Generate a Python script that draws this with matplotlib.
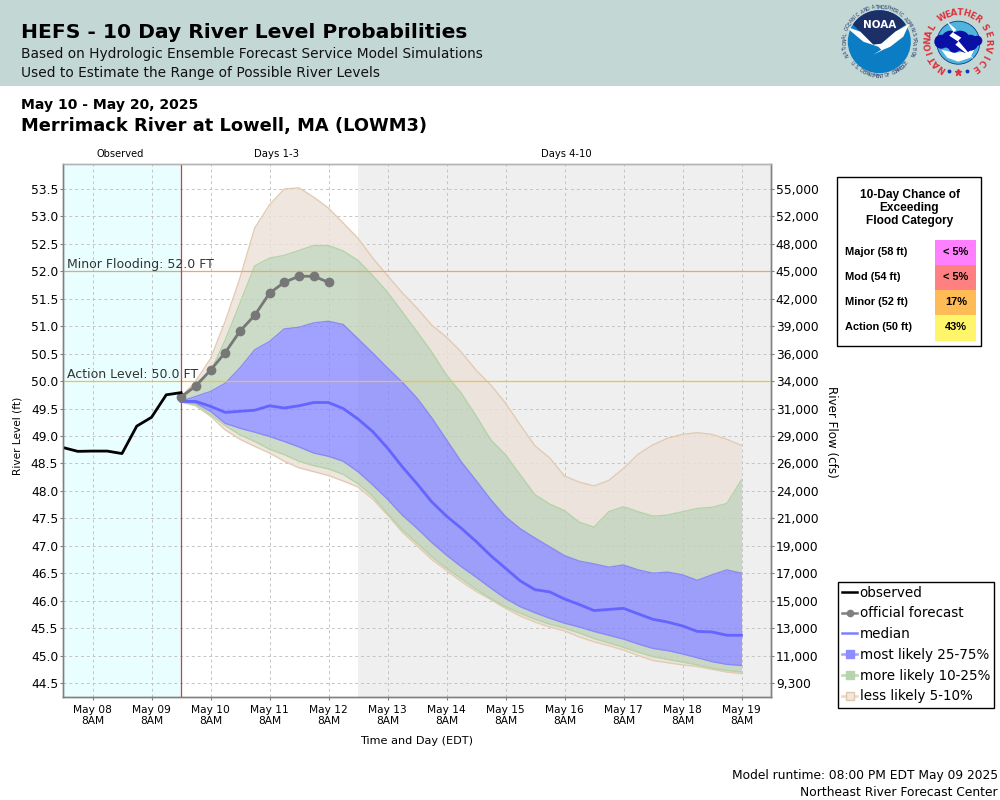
#!/usr/bin/env python3
# HEFS river level probabilities, Merrimack River at Lowell
import numpy as np
import pandas as pd
import matplotlib
matplotlib.use("Agg")
import matplotlib.pyplot as plt
from matplotlib.lines import Line2D
from matplotlib.patches import Circle, Polygon, Rectangle

# data, stage in ft
observed = [48.79, 48.72, 48.725, 48.725, 48.68, 49.18, 49.34, 49.75, 49.79]
official = [49.71, 49.91, 50.20, 50.52, 50.91, 51.20, 51.60, 51.80, 51.91, 51.91, 51.80]

median = [49.63, 49.63, 49.54, 49.43, 49.45, 49.47, 49.55, 49.51, 49.55, 49.61,
          49.61, 49.50, 49.31, 49.08, 48.78, 48.44, 48.13, 47.80, 47.54, 47.32,
          47.08, 46.82, 46.59, 46.36, 46.20, 46.16, 46.03, 45.93, 45.82, 45.84,
          45.86, 45.76, 45.66, 45.61, 45.54, 45.44, 45.43, 45.37, 45.37]
p75 = [49.63, 49.72, 49.81, 49.96, 50.24, 50.57, 50.72, 50.95, 50.98, 51.06,
       51.09, 51.03, 50.77, 50.51, 50.24, 49.98, 49.69, 49.33, 48.93, 48.53,
       48.19, 47.84, 47.53, 47.31, 47.14, 46.98, 46.82, 46.72, 46.67, 46.61,
       46.65, 46.56, 46.50, 46.52, 46.47, 46.37, 46.47, 46.56, 46.50]
p25 = [49.62, 49.60, 49.45, 49.23, 49.14, 49.07, 48.99, 48.90, 48.80, 48.69,
       48.63, 48.54, 48.35, 48.11, 47.85, 47.56, 47.32, 47.06, 46.83, 46.62,
       46.43, 46.23, 46.04, 45.89, 45.78, 45.68, 45.59, 45.52, 45.44, 45.37,
       45.30, 45.21, 45.13, 45.09, 45.03, 44.96, 44.89, 44.84, 44.82]
p90 = [49.71, 49.96, 50.17, 50.75, 51.42, 52.10, 52.24, 52.29, 52.38, 52.47,
       52.47, 52.37, 52.20, 51.92, 51.62, 51.26, 50.90, 50.53, 50.11, 49.78,
       49.37, 48.93, 48.66, 48.29, 47.93, 47.76, 47.64, 47.43, 47.34, 47.62,
       47.71, 47.62, 47.54, 47.56, 47.62, 47.68, 47.70, 47.77, 48.20]
p10 = [49.62, 49.57, 49.39, 49.19, 49.02, 48.90, 48.76, 48.66, 48.54, 48.46,
       48.40, 48.30, 48.13, 47.90, 47.59, 47.29, 47.05, 46.80, 46.59, 46.40,
       46.21, 46.04, 45.89, 45.77, 45.66, 45.57, 45.50, 45.41, 45.31, 45.23,
       45.15, 45.06, 44.98, 44.93, 44.88, 44.83, 44.77, 44.73, 44.70]
p95 = [49.71, 50.00, 50.41, 51.09, 51.88, 52.79, 53.21, 53.50, 53.52, 53.35,
       53.15, 52.88, 52.60, 52.24, 51.92, 51.61, 51.33, 51.02, 50.80, 50.53,
       50.20, 49.93, 49.60, 49.20, 48.82, 48.60, 48.27, 48.16, 48.09, 48.19,
       48.41, 48.67, 48.84, 48.96, 49.03, 49.06, 49.03, 48.94, 48.83]
p05 = [49.62, 49.55, 49.36, 49.11, 48.94, 48.81, 48.69, 48.54, 48.42, 48.35,
       48.28, 48.18, 48.07, 47.85, 47.56, 47.25, 47.00, 46.75, 46.55, 46.35,
       46.17, 46.02, 45.86, 45.72, 45.61, 45.52, 45.45, 45.34, 45.25, 45.18,
       45.10, 45.00, 44.91, 44.87, 44.83, 44.80, 44.75, 44.70, 44.67]

stage_ticks = [44.5, 45.0, 45.5, 46.0, 46.5, 47.0, 47.5, 48.0, 48.5, 49.0,
               49.5, 50.0, 50.5, 51.0, 51.5, 52.0, 52.5, 53.0, 53.5]
flow_labels = ["9,300", "11,000", "13,000", "15,000", "17,000", "19,000", "21,000",
               "24,000", "26,000", "29,000", "31,000", "34,000", "36,000", "39,000",
               "42,000", "45,000", "48,000", "52,000", "55,000"]

table_labels = ["Major (58 ft)", "Mod (54 ft)", "Minor (52 ft)", "Action (50 ft)"]
table_values = ["< 5%", "< 5%", "17%", "43%"]
table_colors = ["#FF80FF", "#FF8080", "#FFBB55", "#FFF56A"]

# time axes
t_obs = pd.date_range("2025-05-07 20:00", periods=len(observed), freq="6h")
t_fc = pd.date_range("2025-05-09 20:00", periods=len(median), freq="6h")
t_off = t_fc[:len(official)]
t_ticks = pd.date_range("2025-05-08 08:00", "2025-05-19 08:00", freq="D")

t_left = pd.Timestamp("2025-05-07 20:00")
t_now = pd.Timestamp("2025-05-09 20:00")
t_day3 = pd.Timestamp("2025-05-12 20:00")
t_right = pd.Timestamp("2025-05-19 20:00")

TAN = "#ECE2D8"
GREEN = "#C0D2BA"
BLUE = "#8282FF"
SANS = "DejaVu Sans"

fig = plt.figure(figsize=(10, 8), dpi=100)
ax = fig.add_axes([0.063, 1 - 697 / 800, 0.708, 533 / 800])

ax.set_xlim(t_left, t_right)
ax.set_ylim(44.245, 53.955)
ax.axvspan(t_left, t_now, color="#E9FFFF", lw=0, zorder=0)
ax.axvspan(t_day3, t_right, color="#EFEFEF", lw=0, zorder=0)

ax.set_axisbelow(True)
ax.grid(True, color="#C4C4C4", ls=(0, (3, 3)), lw=0.7, zorder=1)

# bands
def band(lo, hi, color, alpha):
    ax.fill_between(t_fc, lo, hi, color=color, alpha=alpha, lw=0, zorder=2)

band(p05, p10, TAN, 0.8)
band(p90, p95, TAN, 0.8)
band(p10, p25, GREEN, 0.8)
band(p75, p90, GREEN, 0.8)
band(p25, p75, BLUE, 0.75)
for s in [p05, p95]:
    ax.plot(t_fc, s, color="#E2CBB2", lw=1.0, zorder=3)
for s in [p10, p90]:
    ax.plot(t_fc, s, color="#B5D3A8", lw=1.0, zorder=3)
for s in [p25, p75]:
    ax.plot(t_fc, s, color="#8A8AF5", lw=1.0, zorder=3)

ax.axhline(52.0, color="#F2A65A", lw=0.9, zorder=4)
ax.axhline(50.0, color="#F2C23C", lw=0.9, zorder=4)
ax.axvline(t_now, color="#D63A3A", lw=0.9, zorder=4)

ax.plot(t_fc, median, color="#6464FF", lw=2.0, zorder=5)
ax.plot(t_off, official, color="#777777", lw=2.0, marker="o", ms=6, zorder=6)
ax.plot(t_obs, observed, color="black", lw=2.0, zorder=7)

ax.text(0.006, 52.01, "Minor Flooding: 52.0 FT", transform=ax.get_yaxis_transform(),
        fontsize=9, color="#333333", va="bottom", zorder=8)
ax.text(0.006, 50.01, "Action Level: 50.0 FT", transform=ax.get_yaxis_transform(),
        fontsize=9, color="#333333", va="bottom", zorder=8)

# axes
ax.set_yticks(stage_ticks)
ax.set_yticklabels(["%.1f" % v for v in stage_ticks], fontsize=8.8)
ax.set_xticks(t_ticks)
ax.set_xticklabels([d.strftime("%b %d") + "\n8AM" for d in t_ticks], fontsize=7.7, linespacing=1.1)
ax.tick_params(axis="both", color="#808080", length=2, width=0.8)
ax.tick_params(axis="y", pad=1.5)
ax.tick_params(axis="x", pad=4)
ax.set_ylabel("River Level (ft)", fontsize=7.6)
ax.yaxis.set_label_coords(-0.057, 0.489)
ax.set_xlabel("Time and Day (EDT)", fontsize=8.1, labelpad=7)

ax2 = ax.twinx()
ax2.set_ylim(ax.get_ylim())
ax2.set_yticks(stage_ticks)
ax2.set_yticklabels(flow_labels, fontsize=8.8)
ax2.tick_params(axis="y", color="#808080", length=2, width=0.8, pad=1.5)
ax2.set_ylabel("River Flow (cfs)", fontsize=8.6, rotation=270, labelpad=10)
ax2.yaxis.set_label_coords(1.095, 0.498)

for a in [ax, ax2]:
    for side in ["left", "bottom", "right"]:
        a.spines[side].set_color("#808080")
        a.spines[side].set_linewidth(1.0)
    a.spines["top"].set_color("#B4B4B4")
    a.spines["top"].set_linewidth(1.0)

# overlay in pixel coordinates for header, table and logos
ov = fig.add_axes([0, 0, 1, 1], facecolor="none", zorder=10)
ov.set_xlim(0, 1000)
ov.set_ylim(800, 0)
ov.axis("off")

ov.add_patch(Rectangle((0, 0), 1000, 86, color="#C3D7D5", lw=0))
ov.text(21, 33, "HEFS - 10 Day River Level Probabilities", fontsize=14.6, fontweight="bold", va="center")
ov.text(21, 54, "Based on Hydrologic Ensemble Forecast Service Model Simulations", fontsize=9.95, va="center", color="#111111")
ov.text(21, 73, "Used to Estimate the Range of Possible River Levels", fontsize=9.95, va="center", color="#111111")
ov.text(21, 105, "May 10 - May 20, 2025", fontsize=10.1, fontweight="bold", va="center")
ov.text(21, 126, "Merrimack River at Lowell, MA (LOWM3)", fontsize=12.85, fontweight="bold", va="center")

ov.text(120, 154, "Observed", fontsize=7.1, ha="center", va="center")
ov.text(276.5, 154, "Days 1-3", fontsize=7.3, ha="center", va="center")
ov.text(566.5, 154, "Days 4-10", fontsize=7.2, ha="center", va="center")

ov.text(998, 776, "Model runtime: 08:00 PM EDT May 09 2025", fontsize=8.8, ha="right", va="center")
ov.text(998, 792, "Northeast River Forecast Center", fontsize=8.8, ha="right", va="center")

# flood category table
ov.add_patch(Rectangle((836.5, 176.5), 144, 169, fc="white", ec="black", lw=1.0))
for i, line in enumerate(["10-Day Chance of", "Exceeding", "Flood Category"]):
    ov.text(909.5, 195 + 13 * i, line, family="Liberation Sans", fontweight="bold", fontsize=8.6, ha="center", va="center")
for i in range(4):
    y0 = 240 + 25 * i
    ov.add_patch(Rectangle((935, y0), 41, 25.5, color=table_colors[i], lw=0))
    ov.text(845, y0 + 12, table_labels[i], family="Liberation Sans", fontweight="bold", fontsize=7.9, va="center")
    ov.text(956, y0 + 12, table_values[i], family="Liberation Sans", fontweight="bold", fontsize=7.9, ha="center", va="center")

# legend
handles = [
    Line2D([], [], color="black", lw=1.8),
    Line2D([], [], color="#808080", lw=1.8, marker="o", ms=4.5),
    Line2D([], [], color="#8080FF", lw=1.8),
    Line2D([], [], color="#A0A0FF", lw=1.8, marker="s", ms=5.5, mfc="#8C8CFF", mec="#8C8CFF"),
    Line2D([], [], color="#B8DBAE", lw=1.8, marker="s", ms=5.5, mfc="#B8D4AE", mec="#B8D4AE"),
    Line2D([], [], color="#EBD9C5", lw=1.8, marker="s", ms=5.5, mfc="#F1E7DC", mec="#E0C8AE"),
]
names = ["observed", "official forecast", "median", "most likely 25-75%", "more likely 10-25%", "less likely 5-10%"]
leg = fig.legend(handles, names, loc="lower left", bbox_to_anchor=(838 / 1000, 1 - 707.5 / 800),
                 bbox_transform=fig.transFigure, fontsize=9.75, frameon=True, fancybox=False,
                 edgecolor="black", framealpha=1, borderpad=0.3, labelspacing=0.5,
                 handlelength=1.1, handletextpad=0.2, borderaxespad=0)
leg.get_frame().set_linewidth(1.0)
leg.set_zorder(20)

# logos
def ring_text(cx, cy, r, text, a0, a1, **kw):
    # angles in degrees, clockwise on screen from the top
    for ang, ch in zip(np.linspace(a0, a1, len(text)), text):
        th = np.deg2rad(ang)
        ov.text(cx + r * np.sin(th), cy - r * np.cos(th), ch, rotation=-ang,
                rotation_mode="anchor", ha="center", va="center", **kw)

def ring_text_bottom(cx, cy, r, text, a0, a1, **kw):
    for ang, ch in zip(np.linspace(a0, a1, len(text)), text):
        th = np.deg2rad(ang)
        ov.text(cx + r * np.sin(th), cy - r * np.cos(th), ch, rotation=180 - ang,
                rotation_mode="anchor", ha="center", va="center", **kw)

def rel(cx, cy, pts):
    return [(cx + x, cy + y) for x, y in pts]

# NOAA
nx, ny = 879.3, 41.7
ov.add_patch(Circle((nx, ny), 31.5, fc="#0B7DC4", ec="none"))
arc = np.deg2rad(np.linspace(-57, 57, 30))
dome = [(31.5 * np.sin(a), -31.5 * np.cos(a)) for a in arc]
dome += [(16, -10), (2, 2), (-6, 3), (-19, -10)]
ov.add_patch(Polygon(rel(nx, ny, dome), fc="#1C2F66", lw=0))
gull = [(-30, -14), (-19, -10), (-6, 3), (2, 2), (16, -10), (30, -18), (24, -5), (11, 5), (4, 8),
        (-6, 13), (2, 8), (-1, 5), (-16, 0), (-29, -11)]
ov.add_patch(Polygon(rel(nx, ny, gull), fc="white", lw=0))
ov.text(nx, ny - 17, "NOAA", color="white", fontsize=7.5, fontweight="bold", ha="center", va="center")
ring_text(nx, ny, 34.5, "NATIONAL OCEANIC AND ATMOSPHERIC ADMINISTRATION", -112, 112,
          fontsize=3.3, color="#1C2F66", family=SANS)
ring_text_bottom(nx, ny, 34.5, "U.S. DEPARTMENT OF COMMERCE", 232, 128,
                 fontsize=3.3, color="#1C2F66", family=SANS)

# NWS
wx, wy = 958.3, 42.7
ov.add_patch(Circle((wx, wy), 21.5, fc="#4FB3DE", ec="#0C3D8A", lw=0.6))
ov.add_patch(Polygon(rel(wx, wy, [(-17, 7), (-4, 10), (8, 9), (16, 7), (12, 15), (0, 19), (-11, 15)]),
                     fc="white", lw=0))
for cx, cy, r in [(-17, -1, 7), (-8, -3, 9), (2, -2, 10), (12, 0, 8), (19, -2, 5), (-4, 4, 6), (7, 4, 6)]:
    ov.add_patch(Circle((wx + cx, wy + cy), r, fc="#0A10A5", lw=0))
bolt = [(-12, -22), (-2, -13), (-5, -10), (3, -5), (0, -2), (16, 17), (-3, 2), (0, -1), (-9, -7), (-5, -11)]
ov.add_patch(Polygon(rel(wx, wy, bolt), fc="white", lw=0))
ring_text(wx, wy, 30, "NATIONAL", -147, -60, fontsize=6.2, fontweight="bold", color="#E0303A", family=SANS)
ring_text(wx, wy, 30, "WEATHER", -31, 39, fontsize=6.2, fontweight="bold", color="#E0303A", family=SANS)
ring_text(wx, wy, 30, "SERVICE", 60, 145, fontsize=6.2, fontweight="bold", color="#E0303A", family=SANS)
ov.plot([wx - 9, wx + 9], [wy + 28, wy + 28], ls="none", marker="o", ms=1.8, color="#1438A8")
ov.plot([wx], [wy + 29], ls="none", marker="*", ms=5, color="#E0303A")

fig.savefig("out.png", dpi=100)
